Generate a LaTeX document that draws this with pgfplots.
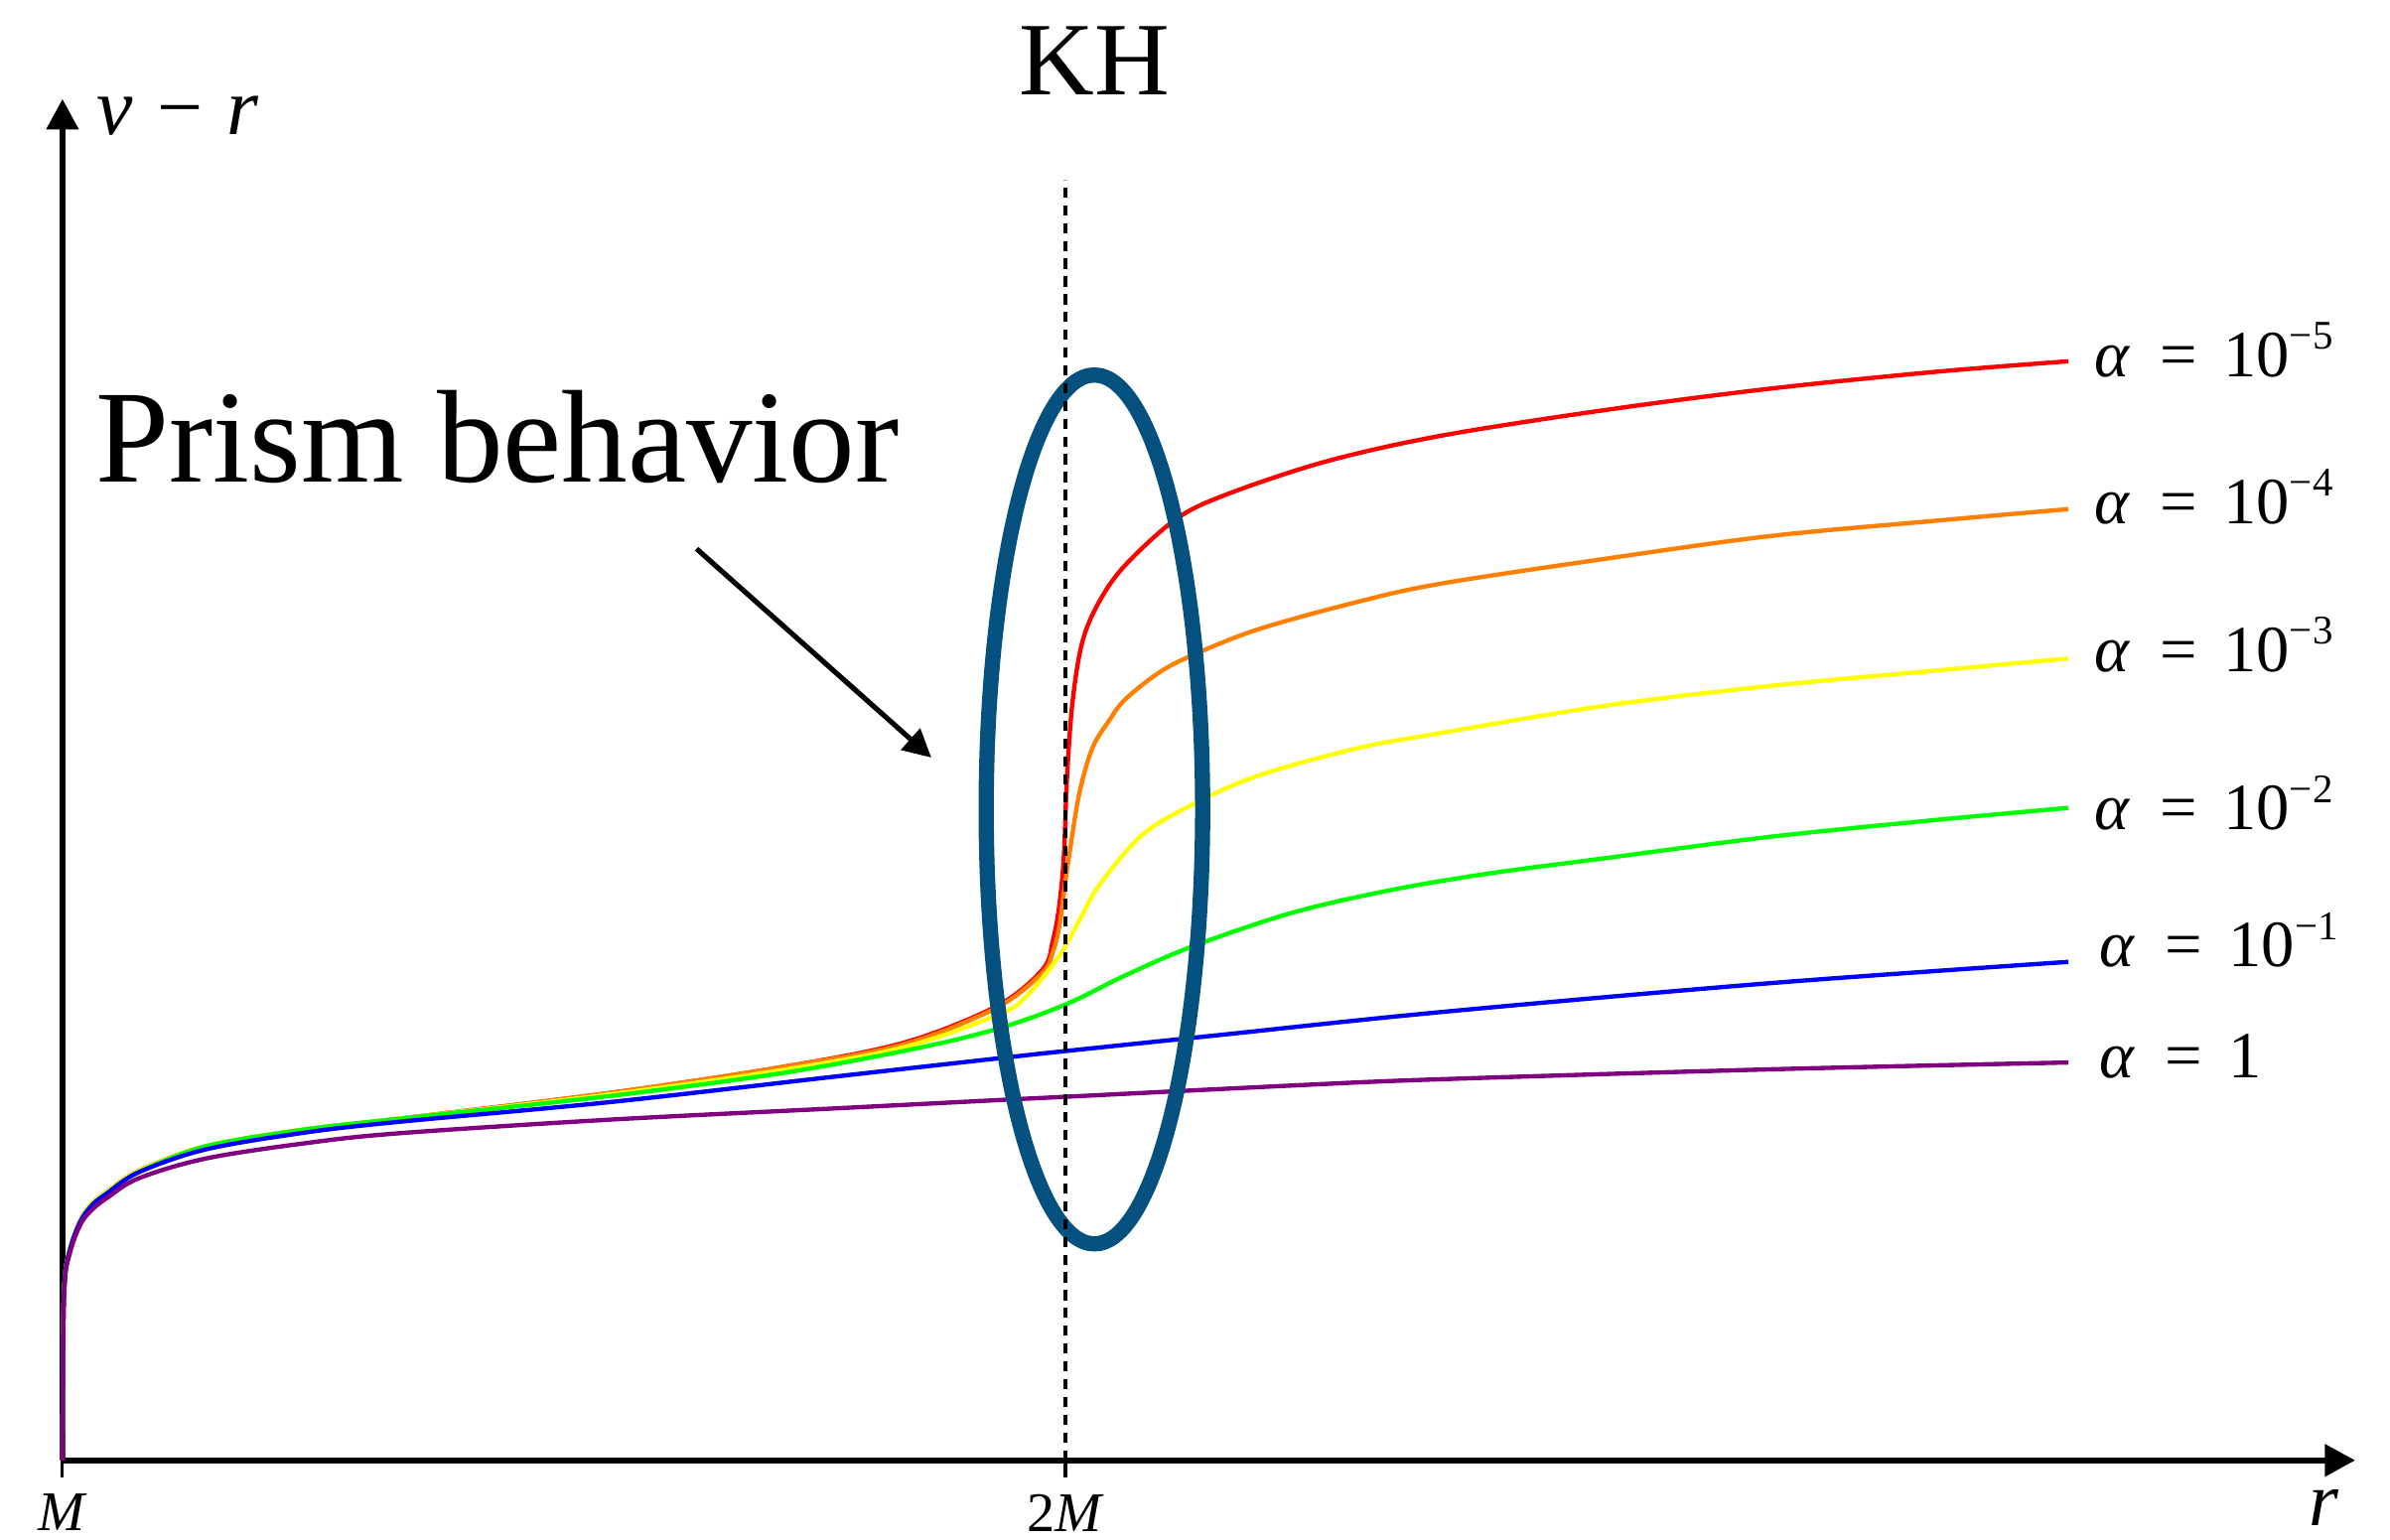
\documentclass[border=0pt]{standalone}
\usepackage{fontspec}
\setmainfont{Liberation Serif}
\usepackage{pgfplots}
\pgfplotsset{compat=1.18}
\usetikzlibrary{arrows.meta}
\definecolor{cred}{RGB}{255,0,0}
\definecolor{corange}{RGB}{255,128,0}
\definecolor{cyellow}{RGB}{255,255,0}
\definecolor{cgreen}{RGB}{0,255,0}
\definecolor{cblue}{RGB}{0,0,255}
\definecolor{cpurple}{RGB}{128,0,128}
\definecolor{ellip}{RGB}{4,80,126}
\newcommand{\alab}[1]{\textit{α}\hspace{0.45em}=\hspace{0.4em}#1}
\newcommand{\supx}[1]{{\fontsize{8}{8}\selectfont\raisebox{5.4pt}{#1}}}
\begin{document}
\begin{tikzpicture}
\begin{axis}[
  scale only axis, width=451.2pt, height=267.9pt,
  xmin=1, xmax=3.286, ymin=0, ymax=8.93,
  axis lines=left,
  axis line style={line width=1.1pt, -{Triangle[length=6pt,width=6.2pt]}},
  every outer x axis line/.append style={-{Triangle[length=6pt,width=6.2pt]}},
  every outer y axis line/.append style={-{Triangle[length=6pt,width=6.2pt]}},
  xtick={1,2}, xticklabels={\textit{M},2\textit{M}},
  ytick=\empty,
  tick align=outside, major tick length=3.3pt,
  x tick style={black, line width=0.6pt},
  xticklabel style={font=\fontsize{11}{11}\selectfont, inner sep=0pt, anchor=north, yshift=-3.2pt},
  clip=false,
]
\path (axis cs:0.9377,-0.52) rectangle (axis cs:3.3207,9.58);

% alpha = 1e-5
\addplot[cred, line width=0.85pt, smooth, tension=0.55] coordinates {
(1,0) (1.0005,0.58) (1.0011,1.00) (1.0030,1.24) (1.0070,1.37) (1.0122,1.48) (1.0198,1.60) (1.0304,1.69) (1.0441,1.76) (1.0760,1.90) (1.1429,2.06) (1.2416,2.17) (1.3343,2.24)
(1.5456,2.41) (1.7173,2.58) (1.8389,2.74) (1.9316,2.98) (1.9772,3.22) (1.9872,3.40) (1.9939,3.64) (1.9985,3.97) (2.0015,4.47) (2.0070,4.97) (2.0167,5.365) (2.0334,5.63) (2.0593,5.87) (2.1094,6.17) (2.1581,6.33) (2.2584,6.55) (2.3733,6.72) (2.5380,6.89) (2.7021,7.03) (2.8663,7.14) (3.0000,7.21)
};
% alpha = 1e-4
\addplot[corange, line width=0.85pt, smooth, tension=0.55] coordinates {
(1,0) (1.0005,0.58) (1.0011,1.00) (1.0030,1.24) (1.0070,1.37) (1.0122,1.48) (1.0198,1.60) (1.0304,1.69) (1.0441,1.76) (1.0760,1.90) (1.1429,2.06) (1.2416,2.17) (1.3343,2.24)
(1.5456,2.41) (1.7173,2.58) (1.8389,2.73) (1.9316,2.97) (1.9772,3.20) (1.9872,3.33) (1.9939,3.50) (2.0000,3.80) (2.0038,3.97) (2.0137,4.37) (2.0267,4.67) (2.0433,4.85) (2.0593,4.99) (2.0927,5.165) (2.1261,5.28) (2.1915,5.45) (2.2903,5.63) (2.3733,5.75) (2.5380,5.914) (2.7021,6.063) (2.8663,6.163) (3.0000,6.24)
};
% alpha = 1e-3
\addplot[cyellow, line width=0.85pt, smooth, tension=0.55] coordinates {
(1,0) (1.0005,0.58) (1.0011,1.00) (1.0030,1.24) (1.0070,1.37) (1.0122,1.48) (1.0198,1.60) (1.0304,1.69) (1.0441,1.76) (1.0760,1.90) (1.1429,2.06) (1.2416,2.17) (1.3343,2.24)
(1.5456,2.40) (1.7173,2.56) (1.8389,2.71) (1.9316,2.92) (1.9605,3.04) (1.9939,3.31) (2.0137,3.54) (2.0334,3.77) (2.0760,4.10) (2.1261,4.30) (2.1915,4.49) (2.2903,4.67) (2.3733,4.77) (2.5380,4.95) (2.7021,5.08) (2.8663,5.18) (3.0000,5.26)
};
% alpha = 1e-2
\addplot[cgreen, line width=0.85pt, smooth, tension=0.55] coordinates {
(1,0) (1.0005,0.58) (1.0011,1.00) (1.0030,1.24) (1.0070,1.37) (1.0122,1.48) (1.0198,1.59) (1.0304,1.68) (1.0441,1.75) (1.0760,1.89) (1.1429,2.06) (1.2416,2.17) (1.3343,2.24)
(1.5456,2.39) (1.7173,2.54) (1.8495,2.70) (1.9316,2.83) (2.0000,2.99) (2.0593,3.18) (2.1261,3.37) (2.2249,3.59) (2.3237,3.74) (2.4225,3.85) (2.5380,3.95) (2.7021,4.09) (2.8663,4.20) (3.0000,4.28)
};
% alpha = 1e-1
\addplot[cblue, line width=0.85pt, smooth, tension=0.55] coordinates {
(1,0) (1.0005,0.58) (1.0011,1.00) (1.0030,1.24) (1.0070,1.37) (1.0122,1.48) (1.0198,1.59) (1.0304,1.68) (1.0441,1.75) (1.0760,1.89) (1.1429,2.04) (1.2416,2.15) (1.3343,2.22)
(1.5456,2.35) (1.7736,2.52) (1.9438,2.645) (2.0000,2.685) (2.1535,2.79) (2.3733,2.94) (2.7021,3.13) (3.0000,3.27)
};
% alpha = 1
\addplot[cpurple, line width=0.85pt, smooth, tension=0.55] coordinates {
(1,0) (1.0005,0.58) (1.0011,1.00) (1.0030,1.23) (1.0070,1.35) (1.0122,1.46) (1.0198,1.57) (1.0304,1.65) (1.0441,1.72) (1.0760,1.85) (1.1429,1.98) (1.2416,2.08) (1.3343,2.145)
(1.5456,2.235) (1.7736,2.31) (1.9438,2.367) (2.0000,2.385) (2.2295,2.46) (2.3733,2.50) (2.7021,2.565) (3.0000,2.61)
};

\draw[ellip, line width=3pt] (axis cs:2.0289,4.27) ellipse [x radius=21.3pt, y radius=85.5pt];
\addplot[black, line width=0.65pt, dash pattern=on 2pt off 1.5pt] coordinates {(2,0) (2,8.40)};

\draw[line width=1pt, -{Triangle[length=5.5pt,width=5.5pt]}] (axis cs:1.6322,5.98) -- (axis cs:1.8663,4.61);

\node[anchor=base, inner sep=0pt, font=\fontsize{20.5}{20.5}\selectfont] at (axis cs:2.029,8.96) {KH};
\node[anchor=base west, inner sep=0pt, font=\fontsize{26}{26}\selectfont] at (axis cs:1.032,6.42) {Prism behavior};
\node[anchor=base west, inner sep=0pt, font=\fontsize{16}{16}\selectfont] at (axis cs:1.033,8.70) {\textit{v}\hspace{0.3em}−\hspace{0.3em}\textit{r}};
\node[anchor=base, inner sep=0pt, font=\fontsize{15}{15}\selectfont] at (axis cs:3.255,-0.43) {\textit{r}};

\node[anchor=base west, inner sep=0pt, font=\fontsize{13}{13}\selectfont] at (axis cs:3.025,7.11) {\alab{10\supx{−5}}};
\node[anchor=base west, inner sep=0pt, font=\fontsize{13}{13}\selectfont] at (axis cs:3.025,6.146) {\alab{10\supx{−4}}};
\node[anchor=base west, inner sep=0pt, font=\fontsize{13}{13}\selectfont] at (axis cs:3.025,5.176) {\alab{10\supx{−3}}};
\node[anchor=base west, inner sep=0pt, font=\fontsize{13}{13}\selectfont] at (axis cs:3.025,4.136) {\alab{10\supx{−2}}};
\node[anchor=base west, inner sep=0pt, font=\fontsize{13}{13}\selectfont] at (axis cs:3.030,3.238) {\alab{10\supx{−1}}};
\node[anchor=base west, inner sep=0pt, font=\fontsize{13}{13}\selectfont] at (axis cs:3.030,2.507) {\alab{1}};
\end{axis}
\end{tikzpicture}
\end{document}
